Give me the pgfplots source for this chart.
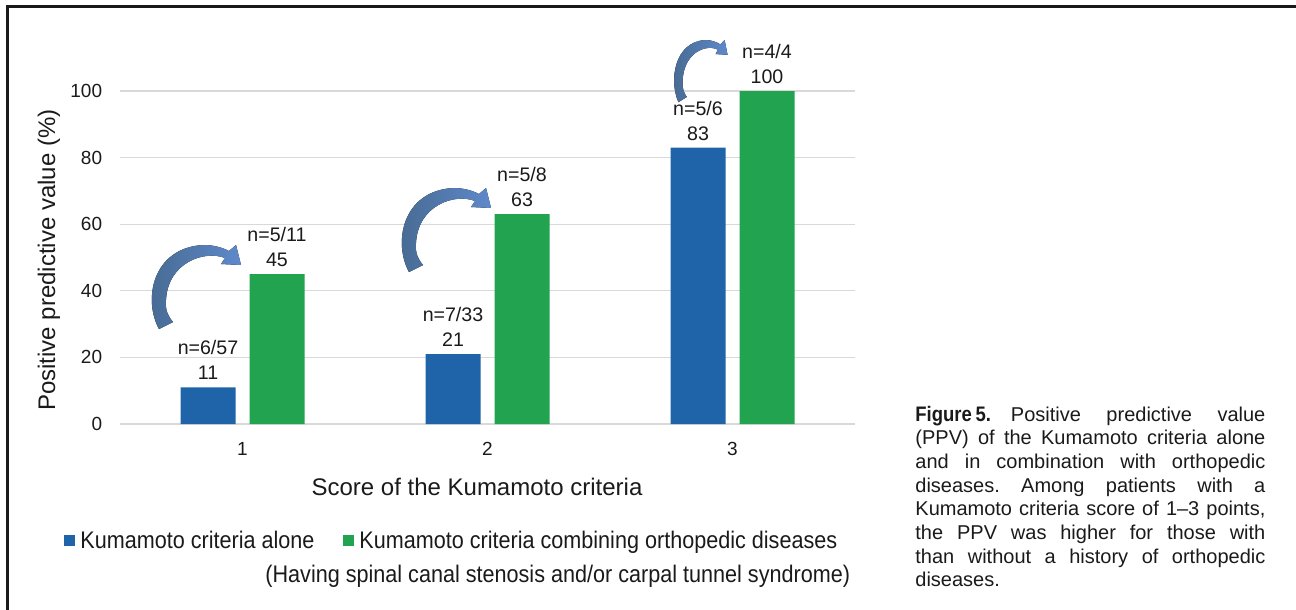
\documentclass[border=0pt]{standalone}
\usepackage{fontspec}
\setmainfont{Liberation Sans}
\usepackage{graphicx}
\usepackage{pgfplots}
\pgfplotsset{compat=1.18}
\usepackage{pgfplotstable}
\frenchspacing

\definecolor{kblue}{HTML}{1F63A8}
\definecolor{kgreen}{HTML}{21A34F}
\definecolor{gridgray}{HTML}{D9D9D9}
\definecolor{arrdark}{HTML}{46698F}
\definecolor{arrlight}{HTML}{5E89CB}
\definecolor{txt}{HTML}{1A1A1A}

\pgfplotstableread{
x y n
1 11 n=6/57
2 21 n=7/33
3 83 n=5/6
}\alonetab
\pgfplotstableread{
x y n
1 45 n=5/11
2 63 n=5/8
3 100 n=4/4
}\combtab

\newcommand{\curvedarrow}{%
  \fill[left color=arrdark, right color=arrlight]
   (159,329) .. controls (143,300) and (152,248) .. (203,245)
   .. controls (215,245) and (223,248) .. (229,251)
   -- (236,245) -- (241,265) -- (221,264) -- (225,258)
   .. controls (205,250) and (168,262) .. (166,300)
   .. controls (165,310) and (168,316) .. (173,322) -- cycle;}

\newcommand{\legfont}{\fontsize{12}{14}\selectfont}
\newcommand{\leg}[1]{\scalebox{0.9}[1]{\legfont #1}}
\newcommand{\capfont}{\fontsize{10}{12}\selectfont}

\begin{document}
\begin{tikzpicture}
\useasboundingbox (0pt,0pt) rectangle (648pt,-305pt);
\begin{axis}[
  at={(60pt,-212pt)}, anchor=south west,
  scale only axis, width=367.5pt, height=166.5pt,
  xmin=0.5, xmax=3.5, ymin=0, ymax=100,
  ybar=7pt, bar width=27.5pt,
  axis line style={draw=none},
  ymajorgrids, grid style={gridgray, line width=0.6pt},
  major tick length=0pt,
  xtick={1,2,3}, ytick={0,20,40,60,80,100},
  tick label style={font=\fontsize{9.5}{11}\selectfont, text=txt},
  /pgf/number format/assume math mode=true,
  xticklabel style={anchor=base, yshift=-15.5pt},
  yticklabel style={anchor=east, inner sep=0pt, xshift=-8.75pt},
  clip=false,
  point meta=explicit symbolic,
  visualization depends on={\thisrow{y} \as \ry},
  nodes near coords={\pgfplotspointmeta\\\pgfmathprintnumber[fixed,precision=0]{\ry}},
  every node near coord/.append style={anchor=south, inner sep=0pt, yshift=3.5pt,
     align=center, font=\fontsize{9.8}{12.5}\selectfont, text=txt},
]
\addplot[fill=kblue, draw=none] table[x=x, y=y, meta=n] {\alonetab};
\addplot[fill=kgreen, draw=none] table[x=x, y=y, meta=n] {\combtab};
\end{axis}

\begin{scope}[x=0.5pt, y=-0.5pt]
  % frame
  \draw[line width=1.5pt, color=txt] (7,611) -- (7,7) -- (1297,7);
  % arrows
  \curvedarrow
  \begin{scope}[shift={(250,-57)}]\curvedarrow\end{scope}
  \begin{scope}[shift={(583,-141.3)}, xscale=0.6, yscale=0.74]\curvedarrow\end{scope}
  % axis labels
  \node[rotate=90, anchor=base, inner sep=0pt, font=\fontsize{12}{14}\selectfont, text=txt]
     at (55,260) {Positive predictive value (\%)};
  \node[anchor=base, inner sep=0pt, font=\fontsize{12}{14}\selectfont, text=txt]
     at (477,495) {Score of the Kumamoto criteria};
  % legend
  \fill[kblue] (64,535) rectangle (75,546);
  \node[anchor=base west, inner sep=0pt, text=txt] at (80,548) {\leg{Kumamoto criteria alone}};
  \fill[kgreen] (343,535) rectangle (354,546);
  \node[anchor=base west, inner sep=0pt, text=txt] at (359,548) {\leg{Kumamoto criteria combining orthopedic diseases}};
  \node[anchor=base west, inner sep=0pt, text=txt] at (265,582) {\leg{(Having spinal canal stenosis and/or carpal tunnel syndrome)}};
  % caption
  \begin{scope}[every node/.style={anchor=base west, inner sep=0pt, font=\capfont, text=txt}]
    \node at (915,421.0) {\makebox[175pt][s]{\scalebox{0.88}[1]{\fontsize{10.5}{12}\selectfont\bfseries Figure\hspace{0.2em}5.}\hspace*{10pt}Positive predictive value}};
    \node at (915,444.7) {\makebox[175pt][s]{(PPV) of the Kumamoto criteria alone}};
    \node at (915,468.3) {\makebox[175pt][s]{and in combination with orthopedic}};
    \node at (915,492.0) {\makebox[175pt][s]{diseases. Among patients with a}};
    \node at (915,515.7) {\makebox[175pt][s]{Kumamoto criteria score of 1–3 points,}};
    \node at (915,539.4) {\makebox[175pt][s]{the PPV was higher for those with}};
    \node at (915,563.0) {\makebox[175pt][s]{than without a history of orthopedic}};
    \node at (915,586.7) {diseases.};
  \end{scope}
\end{scope}
\end{tikzpicture}
\end{document}
